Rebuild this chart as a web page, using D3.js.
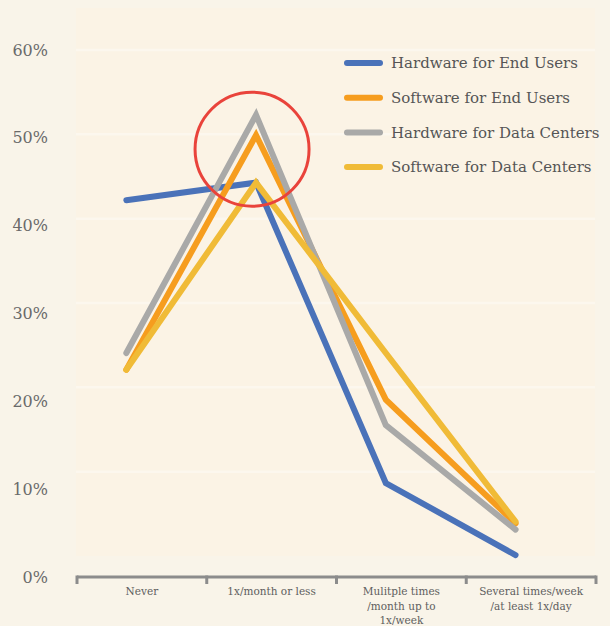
<!DOCTYPE html>
<html>
<head>
<meta charset="utf-8">
<script src="https://cdn.jsdelivr.net/npm/d3@7"></script>
<style>
  html, body { margin: 0; padding: 0; background: #f9f4e9; }
  svg { display: block; }
  text { font-family: "DejaVu Serif", "Liberation Serif", serif; }
</style>
</head>
<body>
<svg id="chart" width="610" height="626"></svg>
<script>
// Release frequency categories
const categories = ["Never", "1x/month or less", "Mulitple times\n/month up to\n1x/week", "Several times/week\n/at least 1x/day"];

// Share of respondents (%) per series
const seriesNames = ["Hardware for End Users", "Software for End Users", "Hardware for Data Centers", "Software for Data Centers"];
const hwEndUsers   = [42.9, 44.9, 10.7, 2.5];
const swEndUsers   = [23.6, 50.3, 20.2, 6.1];
const hwDataCenter = [25.5, 52.6, 17.3, 5.4];
const swDataCenter = [23.6, 44.9, 25.5, 6.3];

const yTicks = [0, 10, 20, 30, 40, 50, 60];
const highlight = { category: "1x/month or less", value: 48.7 };

const colors = ["#4a72b9", "#f69d1e", "#a9a9a8", "#f0bb37"];
const seriesValues = [hwEndUsers, swEndUsers, hwDataCenter, swDataCenter];

const svg = d3.select("#chart");

const x = d3.scaleBand().domain(categories).range([77, 596]).padding(0);
const y = d3.scaleLinear().domain([0, 60]).range([577, 50]);
// background bands are spaced a little tighter than the labels
const yGrid = d3.scaleLinear().domain([0, 60]).range([556, 50]);

const px = c => x(c) + x.bandwidth() * 0.38;

// plot panel
svg.append("rect")
  .attr("x", 76).attr("y", 8)
  .attr("width", 519).attr("height", yGrid(0) - 8)
  .attr("fill", "#fbf3e5");

svg.append("g")
  .selectAll("line")
  .data(yTicks.filter(d => d > 0))
  .join("line")
  .attr("x1", 76).attr("x2", 595)
  .attr("y1", d => yGrid(d)).attr("y2", d => yGrid(d))
  .attr("stroke", "#fcf7ee")
  .attr("stroke-width", 2.5);

// y labels
svg.append("g")
  .selectAll("text")
  .data(yTicks)
  .join("text")
  .attr("x", 48)
  .attr("y", d => y(d))
  .attr("dy", "0.35em")
  .attr("text-anchor", "end")
  .attr("font-size", 16)
  .attr("fill", "#6a6a6a")
  .text(d => d + "%");

// x axis with bracket ticks
const axisG = svg.append("g").attr("transform", "translate(0,577)");
const xAxis = d3.axisBottom(x).tickSize(0).tickFormat("");
axisG.call(xAxis);
axisG.select(".domain").remove();
axisG.append("line")
  .attr("x1", 77).attr("x2", 596)
  .attr("y1", 0).attr("y2", 0)
  .attr("stroke", "#8c8c8c").attr("stroke-width", 3);
const bounds = categories.map(c => x(c)).concat([x.range()[1]]);
axisG.selectAll(".bracket")
  .data(bounds)
  .join("line")
  .attr("class", "bracket")
  .attr("x1", d => d).attr("x2", d => d)
  .attr("y1", -1.5).attr("y2", 7)
  .attr("stroke", "#8c8c8c").attr("stroke-width", 3);

axisG.selectAll(".catlabel")
  .data(categories)
  .join("text")
  .attr("class", "catlabel")
  .attr("x", d => x(d) + x.bandwidth() / 2)
  .attr("y", 18)
  .attr("text-anchor", "middle")
  .attr("font-size", 10.5)
  .attr("fill", "#5e5e5e")
  .each(function(d) {
    const t = d3.select(this);
    d.split("\n").forEach((line, i) => {
      t.append("tspan")
        .attr("x", x(d) + x.bandwidth() / 2)
        .attr("dy", i === 0 ? 0 : 14.5)
        .text(line);
    });
  });

// series lines
const line = d3.line()
  .x((d, i) => px(categories[i]))
  .y(d => y(d));

svg.append("g")
  .selectAll("path")
  .data(seriesValues)
  .join("path")
  .attr("d", d => line(d))
  .attr("fill", "none")
  .attr("stroke", (d, i) => colors[i])
  .attr("stroke-width", 6)
  .attr("stroke-linecap", "round")
  .attr("stroke-linejoin", "miter");

// highlight ring around the peak
svg.append("circle")
  .attr("cx", px(highlight.category) - 4)
  .attr("cy", y(highlight.value))
  .attr("r", 57)
  .attr("fill", "none")
  .attr("stroke", "#e9433b")
  .attr("stroke-width", 3);

// legend
const legend = svg.append("g").attr("transform", "translate(345,63)");
const items = legend.selectAll("g")
  .data(seriesNames)
  .join("g")
  .attr("transform", (d, i) => `translate(0,${i * 34.7})`);
items.append("line")
  .attr("x1", 2).attr("x2", 35)
  .attr("y1", 0).attr("y2", 0)
  .attr("stroke", (d, i) => colors[i])
  .attr("stroke-width", 6)
  .attr("stroke-linecap", "round");
items.append("text")
  .attr("x", 46)
  .attr("y", 0)
  .attr("dy", "0.35em")
  .attr("font-size", 15)
  .attr("fill", "#555")
  .text(d => d);
</script>
</body>
</html>
